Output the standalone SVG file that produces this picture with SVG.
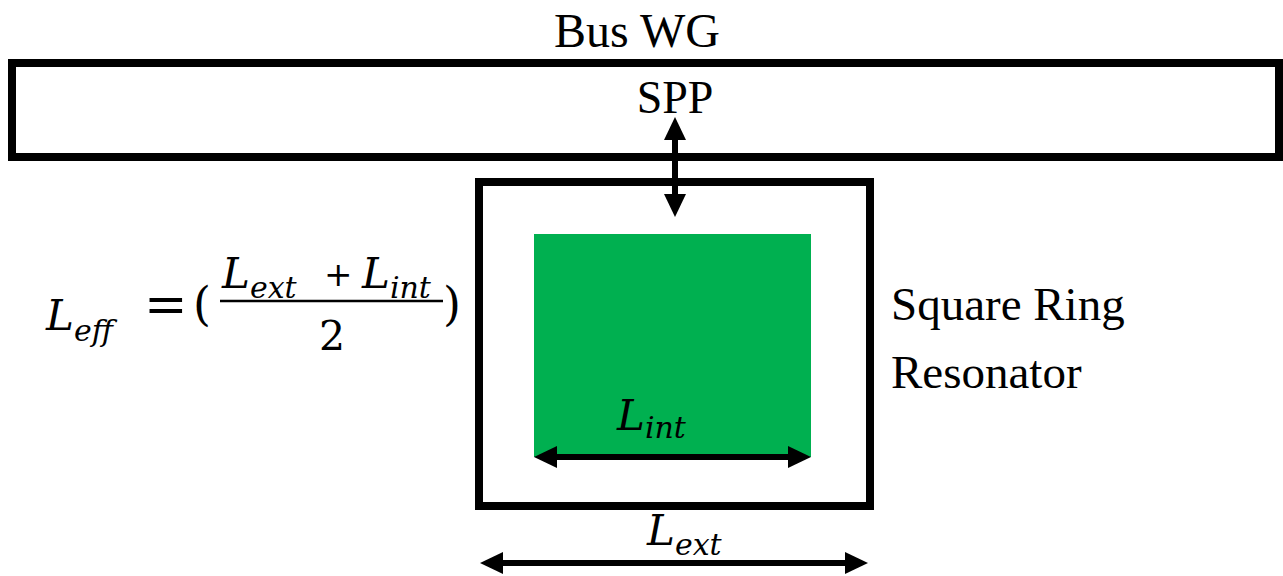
<svg xmlns="http://www.w3.org/2000/svg" width="1283" height="576" viewBox="0 0 1283 576">
<defs>
<marker id="ah" viewBox="0 0 23 22" refX="1" refY="11" markerWidth="23" markerHeight="22" markerUnits="userSpaceOnUse" orient="auto-start-reverse">
<path d="M0,0 L23,11 L0,22 z" fill="#000"/>
</marker>
</defs>
<rect width="1283" height="576" fill="#fff"/>
<g id="bus-wg">
<rect x="12" y="63" width="1267" height="94" fill="none" stroke="#000" stroke-width="8"/>
<text style="font-family:'Liberation Serif',serif;font-size:48px" x="637" y="47" text-anchor="middle">Bus WG</text>
<text style="font-family:'Liberation Serif',serif;font-size:46px" x="675" y="113" text-anchor="middle">SPP</text>
</g>
<g id="ring">
<rect x="479" y="182" width="391" height="324" fill="none" stroke="#000" stroke-width="8"/>
<rect x="534" y="234" width="277" height="223" fill="#00B050"/>
<text style="font-family:'DejaVu Serif',serif;font-style:italic;font-size:42px" x="617" y="430">L<tspan style="font-size:30px" dy="8">int</tspan></text>
<text style="font-family:'DejaVu Serif',serif;font-style:italic;font-size:42px" x="647" y="545">L<tspan style="font-size:30px" dy="10">ext</tspan></text>
</g>
<g id="ring-label">
<text style="font-family:'Liberation Serif',serif;font-size:47px" x="891" y="320">Square Ring</text>
<text style="font-family:'Liberation Serif',serif;font-size:47px" x="891" y="388">Resonator</text>
</g>
<g id="equation">
<text style="font-family:'DejaVu Serif',serif;font-style:italic;font-size:42px" x="46" y="330">L<tspan style="font-size:30px" dy="11">eff</tspan></text>
<text style="font-family:'DejaVu Serif',serif;font-size:52px" x="144" y="322">=</text>
<text style="font-family:'DejaVu Serif',serif;font-size:46px" x="193" y="320">(</text>
<text style="font-family:'DejaVu Serif',serif;font-style:italic;font-size:42px" x="222" y="288">L<tspan style="font-size:30px" dy="10">ext</tspan></text>
<text style="font-family:'DejaVu Serif',serif;font-size:34px" x="324" y="286">+</text>
<text style="font-family:'DejaVu Serif',serif;font-style:italic;font-size:42px" x="362" y="288">L<tspan style="font-size:30px" dy="10">int</tspan></text>
<line x1="220" y1="301" x2="443" y2="301" stroke="#000" stroke-width="2.5"/>
<text style="font-family:'DejaVu Serif',serif;font-size:41px" x="332" y="350" text-anchor="middle">2</text>
<text style="font-family:'DejaVu Serif',serif;font-size:46px" x="443" y="320">)</text>
</g>
<g id="connectors" stroke="#000" stroke-width="6" fill="none" marker-start="url(#ah)" marker-end="url(#ah)">
<line x1="675" y1="139" x2="675" y2="195"/>
<line x1="556" y1="457" x2="789" y2="457"/>
<line x1="502" y1="563" x2="846" y2="563"/>
</g>
</svg>
